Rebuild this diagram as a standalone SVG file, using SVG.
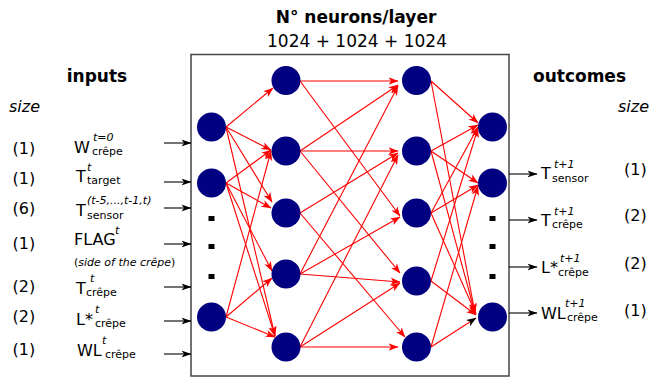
<svg xmlns="http://www.w3.org/2000/svg" width="650" height="380" viewBox="0 0 650 380">
<defs>
<style>
text{font-family:"DejaVu Sans","Liberation Sans",sans-serif;fill:#000}
.h{font-size:17px;font-weight:bold}
.n{font-size:17px}
.m{font-size:16px}
.s{font-size:11px}
.i{font-style:italic}
.node{fill:#000080}
.rl{stroke:#ff0000;stroke-width:1.1;fill:none;marker-end:url(#ar)}
.rk{stroke:#ff0000;stroke-width:1.1;fill:none;marker-end:url(#ak)}
.bl{stroke:#000;stroke-width:1.1;fill:none;marker-end:url(#ab)}
.dot{fill:#000}
</style>
<marker id="ar" viewBox="0 0 10 8" refX="9.5" refY="4" markerWidth="10" markerHeight="8" markerUnits="userSpaceOnUse" orient="auto">
<path d="M0,0.3 L10,4 L0,7.7 L2.6,4 Z" fill="#ff0000"/>
</marker>
<marker id="ak" viewBox="0 0 10 8" refX="9.5" refY="4" markerWidth="10" markerHeight="8" markerUnits="userSpaceOnUse" orient="auto">
<path d="M0,0.3 L10,4 L0,7.7 L2.6,4 Z" fill="#000"/>
</marker>
<marker id="ab" viewBox="0 0 10 8" refX="9.5" refY="4" markerWidth="10" markerHeight="8" markerUnits="userSpaceOnUse" orient="auto">
<path d="M0,0.5 L10,4 L0,7.5 L2.6,4 Z" fill="#000"/>
</marker>
</defs>
<rect width="650" height="380" fill="#fff"/>
<rect id="network-box" x="191" y="54.5" width="318" height="321.5" fill="none" stroke="#444" stroke-width="1.5"/>

<g id="connectors">
<!-- layer 1 -> 2 -->
<line class="rl" x1="226" y1="127" x2="273" y2="88"/>
<line class="rl" x1="226" y1="127" x2="271" y2="150"/>
<line class="rl" x1="226" y1="127" x2="272" y2="202"/>
<line class="rl" x1="226" y1="183" x2="271" y2="150"/>
<line class="rl" x1="226" y1="183" x2="271" y2="208"/>
<line class="rl" x1="226" y1="183" x2="272" y2="271"/>
<line class="rl" x1="226" y1="183" x2="275" y2="336"/>
<line class="rl" x1="226" y1="127" x2="275" y2="336"/>
<line class="rl" x1="226" y1="317" x2="271" y2="151"/>
<line class="rl" x1="226" y1="317" x2="272" y2="278"/>
<line class="rl" x1="226" y1="317" x2="275" y2="337"/>
<!-- layer 2 -> 3 -->
<line class="rl" x1="300" y1="81" x2="398" y2="81"/>
<line class="rl" x1="300" y1="81" x2="400" y2="216"/>
<line class="rl" x1="300" y1="151" x2="398" y2="85"/>
<line class="rl" x1="300" y1="151" x2="398" y2="151"/>
<line class="rl" x1="300" y1="151" x2="400" y2="273"/>
<line class="rl" x1="300" y1="213" x2="398" y2="153"/>
<line class="rl" x1="300" y1="213" x2="405" y2="337"/>
<line class="rl" x1="300" y1="274" x2="398" y2="86"/>
<line class="rl" x1="300" y1="274" x2="400" y2="217"/>
<line class="rl" x1="300" y1="274" x2="400" y2="282"/>
<line class="rl" x1="300" y1="347" x2="398" y2="155"/>
<line class="rl" x1="300" y1="347" x2="400" y2="283"/>
<line class="rl" x1="300" y1="347" x2="398" y2="347"/>
<!-- layer 3 -> 4 -->
<line class="rl" x1="431" y1="81" x2="478" y2="123"/>
<line class="rl" x1="431" y1="81" x2="475" y2="313"/>
<line class="rl" x1="431" y1="151" x2="478" y2="125"/>
<line class="rl" x1="431" y1="151" x2="478" y2="183"/>
<line class="rl" x1="431" y1="151" x2="475" y2="313"/>
<line class="rl" x1="431" y1="213" x2="478" y2="127"/>
<line class="rl" x1="431" y1="213" x2="478" y2="185"/>
<line class="rl" x1="431" y1="213" x2="476" y2="314"/>
<line class="rl" x1="431" y1="281" x2="478" y2="128"/>
<line class="rl" x1="431" y1="281" x2="476" y2="315"/>
<line class="rl" x1="431" y1="347" x2="478" y2="186"/>
<line class="rk" x1="431" y1="347" x2="476" y2="318"/>
<!-- inputs -->
<line class="bl" x1="164" y1="143" x2="191" y2="143"/>
<line class="bl" x1="164" y1="182" x2="191" y2="182"/>
<line class="bl" x1="164" y1="208" x2="191" y2="208"/>
<line class="bl" x1="164" y1="244" x2="191" y2="244"/>
<line class="bl" x1="164" y1="287" x2="191" y2="287"/>
<line class="bl" x1="164" y1="321" x2="191" y2="321"/>
<line class="bl" x1="164" y1="354" x2="191" y2="354"/>
<!-- outputs -->
<line class="bl" x1="509" y1="174" x2="537" y2="174"/>
<line class="bl" x1="509" y1="220" x2="537" y2="220"/>
<line class="bl" x1="509" y1="267" x2="537" y2="267"/>
<line class="bl" x1="509" y1="313" x2="537" y2="313"/>
</g>

<g id="layer-in">
<g id="n-in-1"><circle class="node" cx="211.5" cy="127" r="14.5"/></g>
<g id="n-in-2"><circle class="node" cx="211.5" cy="183" r="14.5"/></g>
<g id="n-in-3"><circle class="node" cx="211.5" cy="317" r="14.5"/></g>
<rect class="dot" x="208.5" y="216" width="6" height="5"/>
<rect class="dot" x="208.5" y="244" width="6" height="5"/>
<rect class="dot" x="208.5" y="274" width="6" height="5"/>
</g>
<g id="layer-h1">
<g id="n-h1-1"><circle class="node" cx="286" cy="80.5" r="14.5"/></g>
<g id="n-h1-2"><circle class="node" cx="286" cy="151" r="14.5"/></g>
<g id="n-h1-3"><circle class="node" cx="286" cy="213" r="14.5"/></g>
<g id="n-h1-4"><circle class="node" cx="286" cy="274" r="14.5"/></g>
<g id="n-h1-5"><circle class="node" cx="286" cy="347" r="14.5"/></g>
</g>
<g id="layer-h2">
<g id="n-h2-1"><circle class="node" cx="416.5" cy="80.5" r="14.5"/></g>
<g id="n-h2-2"><circle class="node" cx="416.5" cy="151" r="14.5"/></g>
<g id="n-h2-3"><circle class="node" cx="416.5" cy="213" r="14.5"/></g>
<g id="n-h2-4"><circle class="node" cx="416.5" cy="281" r="14.5"/></g>
<g id="n-h2-5"><circle class="node" cx="416.5" cy="347" r="14.5"/></g>
</g>
<g id="layer-out">
<g id="n-out-1"><circle class="node" cx="492.5" cy="127" r="14.5"/></g>
<g id="n-out-2"><circle class="node" cx="492.5" cy="183" r="14.5"/></g>
<g id="n-out-3"><circle class="node" cx="492.5" cy="317" r="14.5"/></g>
<rect class="dot" x="489.5" y="216" width="6" height="5"/>
<rect class="dot" x="489.5" y="244" width="6" height="5"/>
<rect class="dot" x="489.5" y="274" width="6" height="5"/>
</g>

<g id="titles">
<text class="h" x="356" y="23" text-anchor="middle">N° neurons/layer</text>
<text class="n" x="357" y="47" text-anchor="middle">1024 + 1024 + 1024</text>
<text class="h" x="97" y="82" text-anchor="middle">inputs</text>
<text class="h" x="579.5" y="82" text-anchor="middle">outcomes</text>
<text class="m i" x="9" y="112">size</text>
<text class="m i" x="618" y="112">size</text>
</g>

<g id="input-labels">
<text class="m" x="12.5" y="154">(1)</text>
<text class="m" x="12.5" y="184">(1)</text>
<text class="m" x="12.5" y="214">(6)</text>
<text class="m" x="12.5" y="249">(1)</text>
<text class="m" x="12.5" y="292">(2)</text>
<text class="m" x="12.5" y="322">(2)</text>
<text class="m" x="12.5" y="355">(1)</text>

<text class="m" x="74" y="153">W</text>
<text class="s i" x="93" y="141">t=0</text>
<text class="s" x="92" y="155">crêpe</text>

<text class="m" x="76" y="182">T</text>
<text class="s i" x="87" y="171">t</text>
<text class="s" x="87" y="184">target</text>

<text class="m" x="76" y="216">T</text>
<text class="s i" x="87" y="204">(t-5,...,t-1,t)</text>
<text class="s" x="87" y="219">sensor</text>

<text class="m" x="74" y="245">FLAG</text>
<text class="s i" x="115" y="234">t</text>
<text class="s" x="74" y="266">(<tspan class="i">side of the crêpe</tspan>)</text>

<text class="m" x="76" y="294">T</text>
<text class="s i" x="90" y="282">t</text>
<text class="s" x="86" y="296">crêpe</text>

<text class="m" x="76" y="325">L*</text>
<text class="s i" x="95" y="313">t</text>
<text class="s" x="95" y="327">crêpe</text>

<text class="m" x="77" y="356">WL</text>
<text class="s i" x="102" y="344">t</text>
<text class="s" x="105" y="358">crêpe</text>
</g>

<g id="output-labels">
<text class="m" x="541" y="179">T</text>
<text class="s i" x="554" y="168">t+1</text>
<text class="s" x="552" y="182">sensor</text>

<text class="m" x="541" y="226">T</text>
<text class="s i" x="554" y="215">t+1</text>
<text class="s" x="552" y="228">crêpe</text>

<text class="m" x="541" y="273">L*</text>
<text class="s i" x="560" y="262">t+1</text>
<text class="s" x="558" y="276">crêpe</text>

<text class="m" x="541" y="319">WL</text>
<text class="s i" x="565" y="307">t+1</text>
<text class="s" x="567" y="321">crêpe</text>

<text class="m" x="624" y="175">(1)</text>
<text class="m" x="624" y="221">(2)</text>
<text class="m" x="624" y="269">(2)</text>
<text class="m" x="624" y="316">(1)</text>
</g>
</svg>
